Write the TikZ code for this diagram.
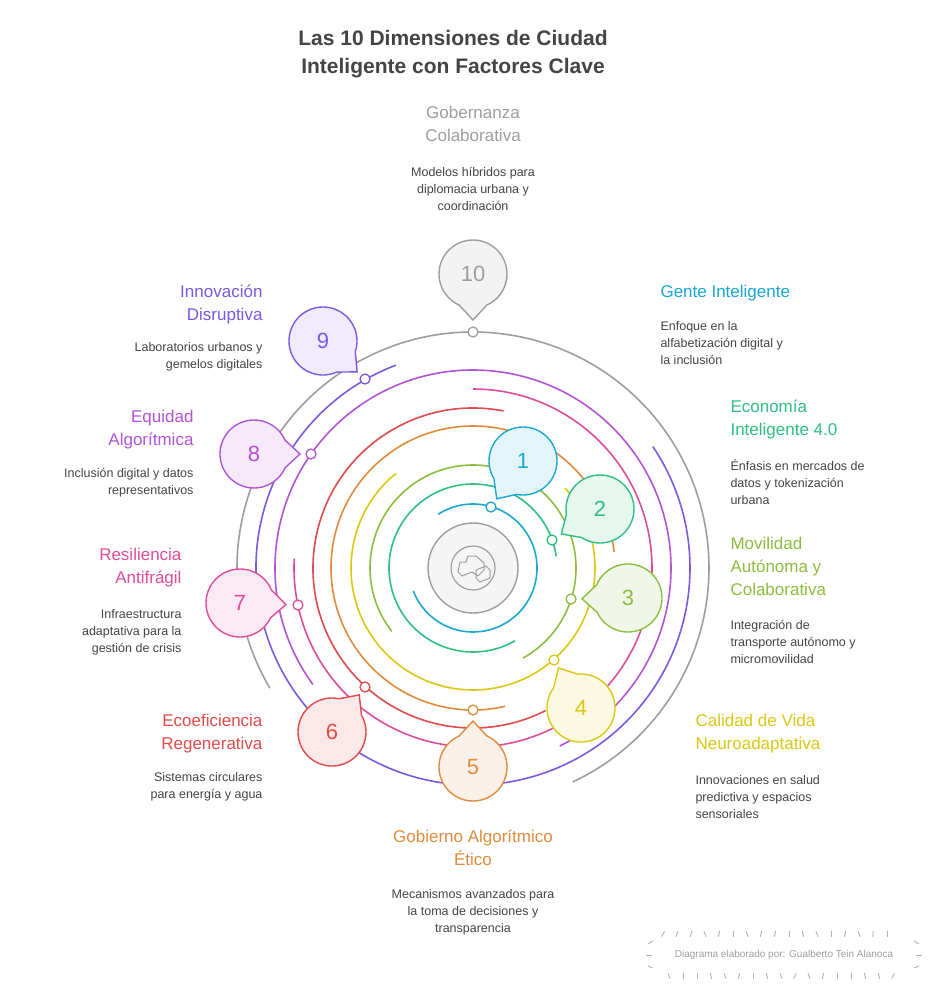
\documentclass[tikz,border=0pt]{standalone}
\usepackage{fontspec}
\setmainfont{Liberation Sans}
\usetikzlibrary{calc}
\definecolor{c1}{HTML}{1AA8D2}
\definecolor{c2}{HTML}{2FBF85}
\definecolor{c3}{HTML}{8CBF3F}
\definecolor{c4}{HTML}{DCC814}
\definecolor{c5}{HTML}{E38B3C}
\definecolor{c6}{HTML}{E04B4B}
\definecolor{c7}{HTML}{DE4D9B}
\definecolor{c8}{HTML}{B354D6}
\definecolor{c9}{HTML}{7A5AE0}
\definecolor{c10}{HTML}{9E9E9E}
\definecolor{txt}{HTML}{444444}
\newcommand\bub[4]{%
  \path[draw=#3,fill=#3!12,line width=1.4pt] let \p1=($(#2)-(#1)$), \n1={atan2(\y1,\x1)} in
    ($(#1)+(\n1:46pt)$) -- ($(#1)+(\n1+24:34pt)$) arc[start angle=\n1+24, end angle=\n1+336, radius=34pt] -- cycle;
  \node[text=#3,font=\fontsize{22}{24}\selectfont] at (#1) {#4};}
\newcommand\ring[4]{% color, radius, start, end
  \draw[#1,line width=1.6pt] (O) ++(#3:#2pt) arc[start angle=#3,end angle=#4,radius=#2pt];}
\tikzset{
  ttl/.style={font=\fontsize{17}{23}\selectfont,align=#1},
  dsc/.style={font=\fontsize{12.5}{17}\selectfont,text=txt,align=#1},
  dot/.style={circle,draw=#1,fill=white,line width=1.3pt,minimum size=10pt,inner sep=0pt}
}
\begin{document}
\begin{tikzpicture}[x=1pt,y=-1pt]
\useasboundingbox (0,0) rectangle (937,996);
\fill[white] (0,0) rectangle (937,996);
\coordinate (O) at (473,568);
% title
\node[font=\bfseries\fontsize{21}{28}\selectfont,text=txt,align=center] (title) at (453,54) {Las 10 Dimensiones de Ciudad\\Inteligente con Factores Clave};
% rings
\ring{c1}{64}{123}{-159}
\ring{c2}{84}{8}{300}
\ring{c3}{103}{218}{-61}
\ring{c4}{122}{129}{401}
\ring{c5}{142}{6.5}{283}
\ring{c6}{160}{79}{297}
\ring{c7}{179}{90}{-183}
\ring{c8}{198}{216}{-64}
\ring{c9}{217}{110.8}{394}
\ring{c10}{236}{210.6}{-65}
% center
\node[circle,draw=c10,fill=gray!8,line width=1.4pt,minimum size=90pt] (hub) at (O) {};
\node[circle,draw=c10,line width=1.2pt,minimum size=44pt] (hubin) at (O) {};
\draw[c10,line width=1pt,line join=round] (460,562) -- (466,562) -- (468,556) -- (476,556) -- (484,563) -- (484,570) -- (478,576) -- (472,572) -- (462,576) -- (458,572) -- cycle;
\draw[c10,line width=1pt] (476,570) -- (486,566) -- (490,570) -- (490,578) -- (480,582) -- (476,578) -- cycle;
% dots
\node[dot=c1] (d1) at (491,507) {};
\node[dot=c2] (d2) at (552,540) {};
\node[dot=c3] (d3) at (571,599) {};
\node[dot=c4] (d4) at (554,660) {};
\node[dot=c5] (d5) at (473,710) {};
\node[dot=c6] (d6) at (365,687) {};
\node[dot=c7] (d7) at (298,605) {};
\node[dot=c8] (d8) at (311,454) {};
\node[dot=c9] (d9) at (365,379) {};
\node[dot=c10] (d10) at (473,332) {};
% bubbles
\coordinate (b1) at (523,461); \bub{b1}{d1}{c1}{1}
\coordinate (b2) at (600,509); \bub{b2}{d2}{c2}{2}
\coordinate (b3) at (628,598); \bub{b3}{d3}{c3}{3}
\coordinate (b4) at (581,708); \bub{b4}{d4}{c4}{4}
\coordinate (b5) at (473,767); \bub{b5}{d5}{c5}{5}
\coordinate (b6) at (332,732); \bub{b6}{d6}{c6}{6}
\coordinate (b7) at (240,603); \bub{b7}{d7}{c7}{7}
\coordinate (b8) at (254,454); \bub{b8}{d8}{c8}{8}
\coordinate (b9) at (323,341); \bub{b9}{d9}{c9}{9}
\coordinate (b10) at (473,274); \bub{b10}{d10}{c10}{10}
% labels
\node[ttl=center,text=c10,anchor=north] (t10) at (473,103) {Gobernanza\\Colaborativa};
\node[dsc=center,anchor=north] (s10) at (473,164) {Modelos híbridos para\\diplomacia urbana y\\coordinación};
\node[ttl=left,text=c1,anchor=north west] (t1) at (657,282) {Gente Inteligente};
\node[dsc=left,anchor=north west] (s1) at (657,318) {Enfoque en la\\alfabetización digital y\\la inclusión};
\node[ttl=left,text=c2,anchor=north west] (t2) at (727,396) {Economía\\Inteligente 4.0};
\node[dsc=left,anchor=north west] (s2) at (727,456) {Énfasis en mercados de\\datos y tokenización\\urbana};
\node[ttl=left,text=c3,anchor=north west] (t3) at (727,534) {Movilidad\\Autónoma y\\Colaborativa};
\node[dsc=left,anchor=north west] (s3) at (727,617) {Integración de\\transporte autónomo y\\micromovilidad};
\node[ttl=left,text=c4,anchor=north west] (t4) at (692,711) {Calidad de Vida\\Neuroadaptativa};
\node[dsc=left,anchor=north west] (s4) at (692,772) {Innovaciones en salud\\predictiva y espacios\\sensoriales};
\node[ttl=center,text=c5,anchor=north] (t5) at (473,826) {Gobierno Algorítmico\\Ético};
\node[dsc=center,anchor=north] (s5) at (473,886) {Mecanismos avanzados para\\la toma de decisiones y\\transparencia};
\node[ttl=right,text=c6,anchor=north east] (t6) at (266,711) {Ecoeficiencia\\Regenerativa};
\node[dsc=right,anchor=north east] (s6) at (266,769) {Sistemas circulares\\para energía y agua};
\node[ttl=right,text=c7,anchor=north east] (t7) at (185,545) {Resiliencia\\Antifrágil};
\node[dsc=right,anchor=north east] (s7) at (185,606) {Infraestructura\\adaptativa para la\\gestión de crisis};
\node[ttl=right,text=c8,anchor=north east] (t8) at (197,407) {Equidad\\Algorítmica};
\node[dsc=right,anchor=north east] (s8) at (197,465) {Inclusión digital y datos\\representativos};
\node[ttl=right,text=c9,anchor=north east] (t9) at (266,281) {Innovación\\Disruptiva};
\node[dsc=right,anchor=north east] (s9) at (266,339) {Laboratorios urbanos y\\gemelos digitales};
% footer
\node[font=\fontsize{10}{12}\selectfont,text=c10] (foot) at (784,955) {Diagrama elaborado por: Gualberto Tein Alanoca};
\foreach \x/\a in {663/-30,677/-20,691/-15,705/20,719/-15,733/0,747/20,761/-15,775/-15,789/0,803/10,817/20,831/0,845/-10,859/20,873/-5,887/0}
  \draw[c10!80,line width=0.9pt] ($(\x,934)+(\a+90:3pt)$) -- ($(\x,934)+(\a-90:3pt)$);
\foreach \x/\a in {669/20,683/0,697/0,711/10,725/20,739/-10,753/0,767/15,781/20,795/-25,809/20,823/-10,837/0,851/0,865/10,879/15,893/-30}
  \draw[c10!80,line width=0.9pt] ($(\x,976)+(\a+90:3pt)$) -- ($(\x,976)+(\a-90:3pt)$);
\draw[c10!80,line width=0.9pt] (646,955) -- (652,955);
\draw[c10!80,line width=0.9pt] (916,955) -- (922,955);
\draw[c10!80,line width=0.9pt] (648,944) -- (653,941);
\draw[c10!80,line width=0.9pt] (648,966) -- (653,968);
\draw[c10!80,line width=0.9pt] (914,941) -- (919,944);
\draw[c10!80,line width=0.9pt] (914,968) -- (919,966);
\end{tikzpicture}
\end{document}
